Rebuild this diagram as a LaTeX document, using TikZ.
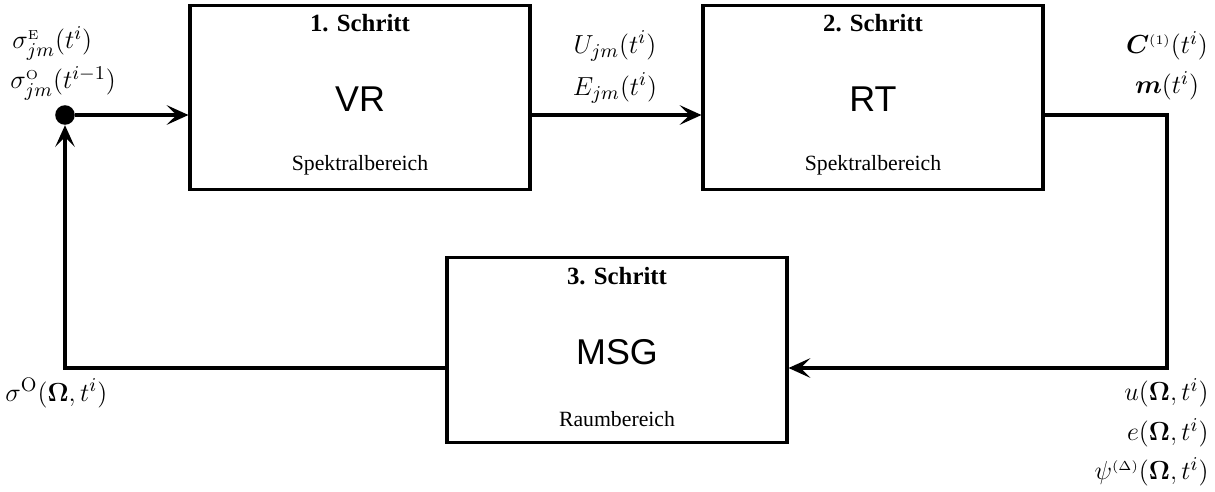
\documentclass[tikz,border=0pt]{standalone}
\usepackage{amsmath,bm}
\usepackage[no-math]{fontspec}
\setmainfont{Liberation Serif}
\newfontfamily\hv{Liberation Sans}
\usetikzlibrary{arrows.meta}
\tikzset{
  stepbox/.style={draw, line width=1.4pt, minimum width=156.4pt, minimum height=85pt, inner sep=0pt},
  steptitle/.style={font=\fontsize{11.4}{13}\selectfont\bfseries, inner sep=0pt},
  stepname/.style={font=\fontsize{16.5}{20}\hv, inner sep=0pt},
  steparea/.style={font=\fontsize{10}{12}\selectfont, inner sep=0pt},
  lab/.style={font=\fontsize{12.5}{15}\selectfont, inner sep=0pt},
  conn/.style={line width=1.4pt, -{Stealth[length=10pt, width=9pt, inset=4.5pt]}},
}
\begin{document}
\begin{tikzpicture}[x=0.46pt,y=-0.46pt]
\useasboundingbox (0,0) rectangle (1215,491);
% boxes
\node[stepbox] (b1) at (360,97.5) {};
\node[stepbox] (b2) at (873,97.5) {};
\node[stepbox] (b3) at (617,350) {};
% box texts
\node[steptitle] (t1) at (360,23) {1. Schritt};
\node[stepname] (n1) at (360,99) {VR};
\node[steparea] (d1) at (360,165) {Spektralbereich};
\node[steptitle] (t2) at (873,23) {2. Schritt};
\node[stepname] (n2) at (873,99) {RT};
\node[steparea] (d2) at (873,165) {Spektralbereich};
\node[steptitle] (t3) at (617,276) {3. Schritt};
\node[stepname] (n3) at (617,352) {MSG};
\node[steparea] (d3) at (617,419) {Raumbereich};
% junction dot
\node[circle, fill, inner sep=0pt, minimum size=9pt] (dot) at (65,115) {};
\coordinate (c1) at (1167,115);
\coordinate (c2) at (1167,368);
\coordinate (c3) at (65,368);
% connectors
\draw[conn] (dot) -- (dot -| b1.west);
\draw[conn] (b1.east |- dot) -- (b2.west |- dot);
\draw[conn] (b2.east |- c1) -- (c1) -- (c2) -- (b3.east |- c2);
\draw[conn] (b3.west |- c3) -- (c3) -- (dot);
% labels
\node[lab, anchor=west] (l1) at (12,43) {$\sigma^{\scriptscriptstyle\mathrm{E}}_{jm}(t^i)$};
\node[lab, anchor=west] (l2) at (10,83) {$\sigma^{\scriptscriptstyle\mathrm{O}}_{jm}(t^{i-1})$};
\node[lab] (l3) at (615,46) {$U_{jm}(t^i)$};
\node[lab] (l4) at (615,88) {$E_{jm}(t^i)$};
\node[lab] (l5) at (1167,46) {$\bm{C}^{\scriptscriptstyle(1)}(t^i)$};
\node[lab] (l6) at (1167,86) {$\bm{m}(t^i)$};
\node[lab, anchor=west] (l7) at (5,393) {$\sigma^{\mathrm{O}}(\mathbf{\Omega},t^i)$};
\node[lab, anchor=east] (l8) at (1209,393) {$u(\mathbf{\Omega},t^i)$};
\node[lab, anchor=east] (l9) at (1209,433) {$e(\mathbf{\Omega},t^i)$};
\node[lab, anchor=east] (l10) at (1209,472) {$\psi^{\scriptscriptstyle(\Delta)}(\mathbf{\Omega},t^i)$};
\end{tikzpicture}
\end{document}
